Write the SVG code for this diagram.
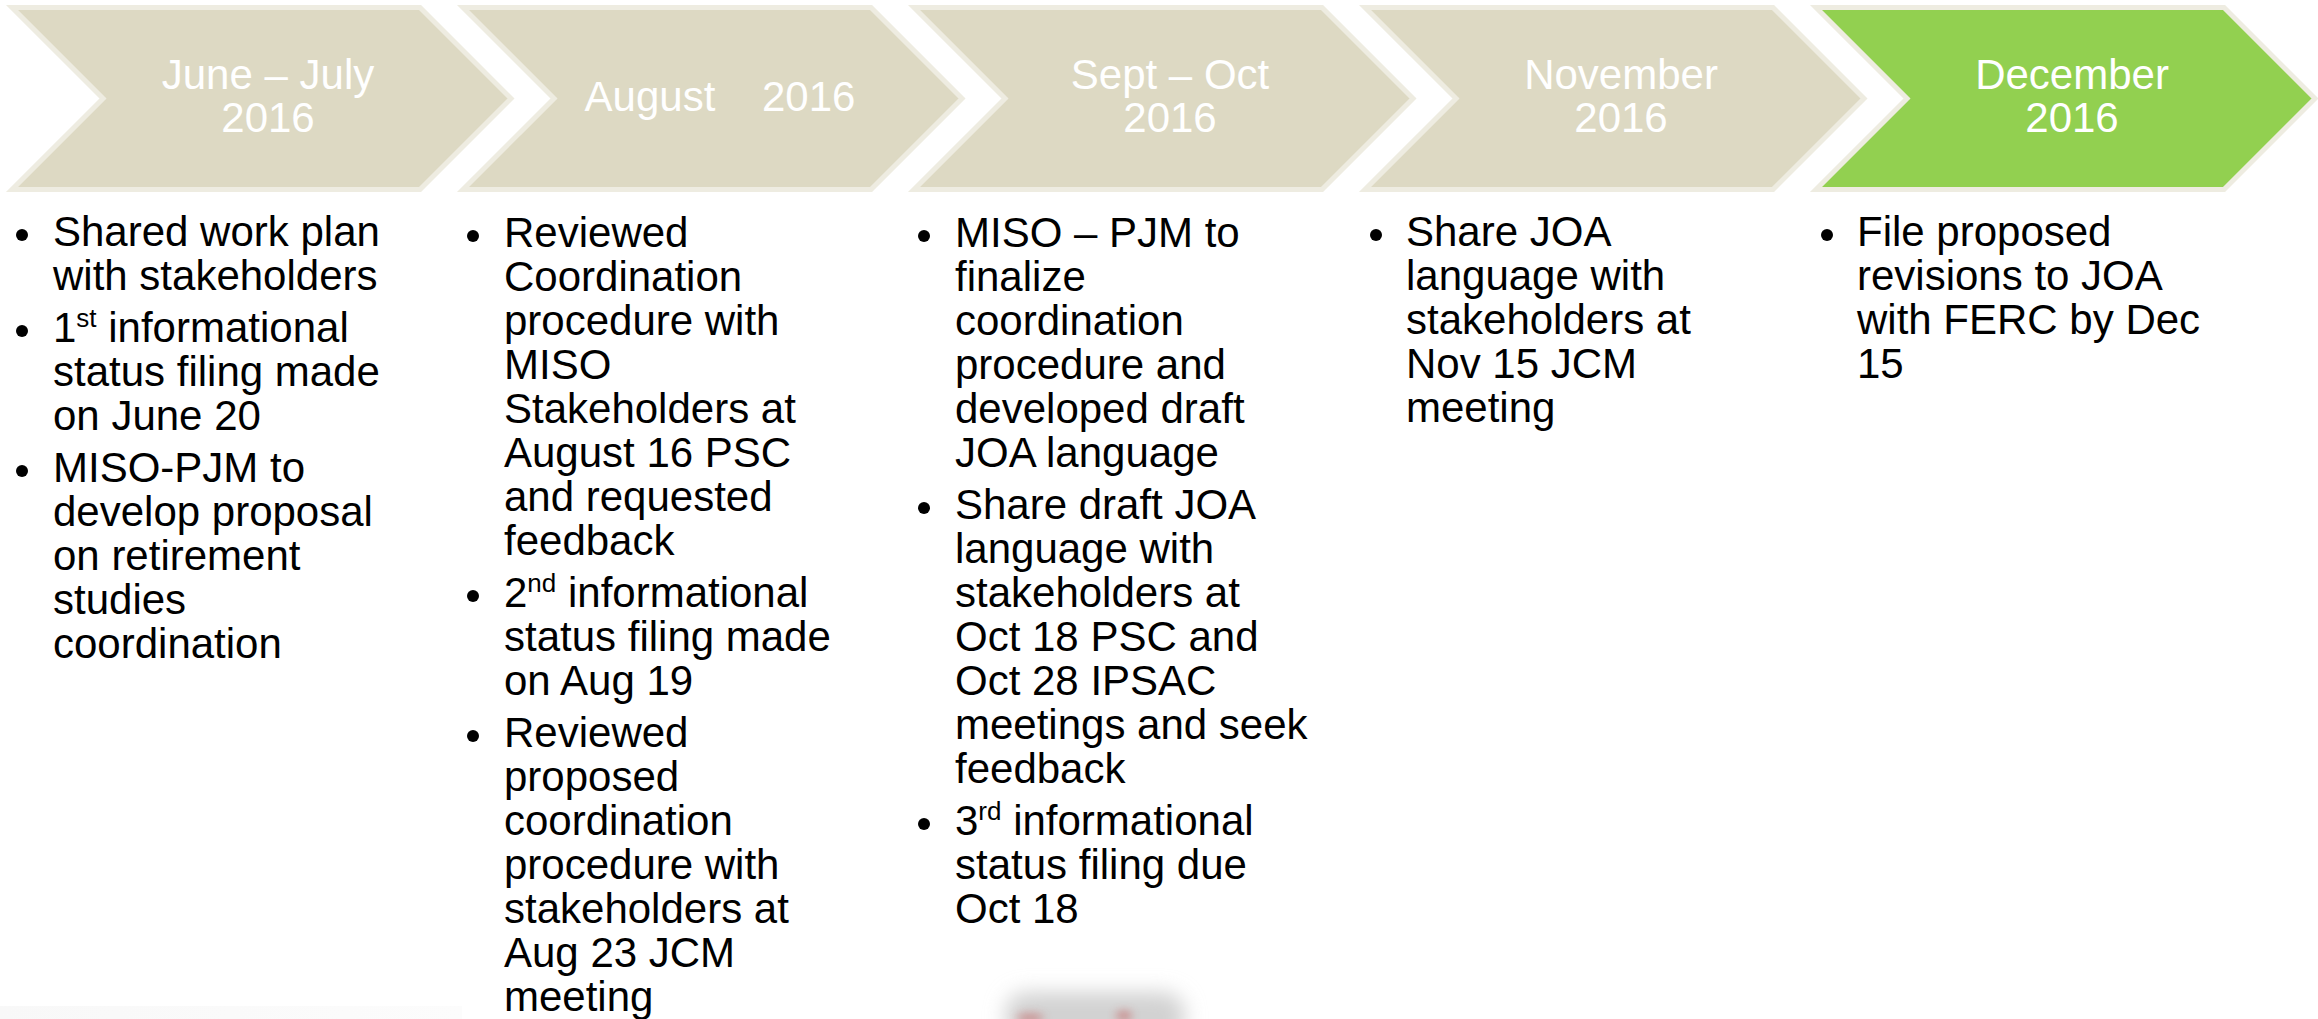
<svg xmlns="http://www.w3.org/2000/svg" width="2318" height="1019" viewBox="0 0 2318 1019">
  <defs>
    <style>
      .chev { fill: #DDD9C3; stroke: #EEECE1; stroke-width: 5; stroke-linejoin: miter; }
      .chev-now { fill: #92D050; stroke: #EEECE1; stroke-width: 5; stroke-linejoin: miter; }
      .head { font-family: "Liberation Sans", Arial, sans-serif; font-size: 42px; fill: #FFFFFF; text-anchor: middle; }
      .body { font-family: "Liberation Sans", Arial, sans-serif; font-size: 42px; fill: #000000; }
      .sup { font-size: 26px; }
      .dot { fill: #000000; }
    </style>
    <path id="chevron" d="M 12 7.5 L 420 7.5 L 511 98.5 L 420 189.5 L 12 189.5 L 103 98.5 Z"/>
    <filter id="soft" x="-30%" y="-60%" width="160%" height="220%">
      <feGaussianBlur stdDeviation="10"/>
    </filter>
    <filter id="softer" x="-80%" y="-150%" width="260%" height="400%">
      <feGaussianBlur stdDeviation="5"/>
    </filter>
    <linearGradient id="footFade" x1="0" y1="0" x2="1" y2="0">
      <stop offset="0" stop-color="#F8F8F8"/>
      <stop offset="1" stop-color="#FCFCFC"/>
    </linearGradient>
  </defs>

  <rect width="2318" height="1019" fill="#FFFFFF"/>

  <!-- faint footer strip, bottom left -->
  <rect x="0" y="1006" width="462" height="13" fill="url(#footFade)"/>

  <!-- logo peeking in at the bottom edge -->
  <g id="logo">
    <rect x="1005" y="992" width="180" height="50" rx="22" fill="#D2D2D2" filter="url(#soft)"/>
    <ellipse cx="1030" cy="1018" rx="14" ry="4" fill="#C04848" opacity="0.55" filter="url(#softer)"/>
    <ellipse cx="1124" cy="1016" rx="8" ry="5" fill="#C04848" opacity="0.55" filter="url(#softer)"/>
  </g>

  <!-- timeline stages -->
  <g id="stage-jun-jul">
    <use href="#chevron" class="chev"/>
    <text class="head"><tspan x="268" y="89">June – July</tspan><tspan x="268" y="132">2016</tspan></text>
  </g>
  <g id="stage-aug">
    <use href="#chevron" class="chev" transform="translate(451,0)"/>
    <text class="head" x="720" y="111" xml:space="preserve">August    2016</text>
  </g>
  <g id="stage-sep-oct">
    <use href="#chevron" class="chev" transform="translate(902,0)"/>
    <text class="head"><tspan x="1170" y="89">Sept – Oct</tspan><tspan x="1170" y="132">2016</tspan></text>
  </g>
  <g id="stage-nov">
    <use href="#chevron" class="chev" transform="translate(1353,0)"/>
    <text class="head"><tspan x="1621" y="89">November</tspan><tspan x="1621" y="132">2016</tspan></text>
  </g>
  <g id="stage-dec">
    <use href="#chevron" class="chev-now" transform="translate(1804,0)"/>
    <text class="head"><tspan x="2072" y="89">December</tspan><tspan x="2072" y="132">2016</tspan></text>
  </g>

  <!-- bullet lists under each stage -->
  <g id="notes-jun-jul">
    <circle class="dot" cx="22" cy="235" r="6"/>
    <circle class="dot" cx="22" cy="331" r="6"/>
    <circle class="dot" cx="22" cy="471" r="6"/>
    <text class="body">
      <tspan x="53" y="246">Shared work plan</tspan>
      <tspan x="53" y="290">with stakeholders</tspan>
      <tspan x="53" y="342">1<tspan class="sup" dy="-15">st</tspan><tspan dy="15"> informational</tspan></tspan>
      <tspan x="53" y="386">status filing made</tspan>
      <tspan x="53" y="430">on June 20</tspan>
      <tspan x="53" y="482">MISO-PJM to</tspan>
      <tspan x="53" y="526">develop proposal</tspan>
      <tspan x="53" y="570">on retirement</tspan>
      <tspan x="53" y="614">studies</tspan>
      <tspan x="53" y="658">coordination</tspan>
    </text>
  </g>

  <g id="notes-aug">
    <circle class="dot" cx="473" cy="236" r="6"/>
    <circle class="dot" cx="473" cy="596" r="6"/>
    <circle class="dot" cx="473" cy="736" r="6"/>
    <text class="body">
      <tspan x="504" y="247">Reviewed</tspan>
      <tspan x="504" y="291">Coordination</tspan>
      <tspan x="504" y="335">procedure with</tspan>
      <tspan x="504" y="379">MISO</tspan>
      <tspan x="504" y="423">Stakeholders at</tspan>
      <tspan x="504" y="467">August 16 PSC</tspan>
      <tspan x="504" y="511">and requested</tspan>
      <tspan x="504" y="555">feedback</tspan>
      <tspan x="504" y="607">2<tspan class="sup" dy="-15">nd</tspan><tspan dy="15"> informational</tspan></tspan>
      <tspan x="504" y="651">status filing made</tspan>
      <tspan x="504" y="695">on Aug 19</tspan>
      <tspan x="504" y="747">Reviewed</tspan>
      <tspan x="504" y="791">proposed</tspan>
      <tspan x="504" y="835">coordination</tspan>
      <tspan x="504" y="879">procedure with</tspan>
      <tspan x="504" y="923">stakeholders at</tspan>
      <tspan x="504" y="967">Aug 23 JCM</tspan>
      <tspan x="504" y="1011">meeting</tspan>
    </text>
  </g>

  <g id="notes-sep-oct">
    <circle class="dot" cx="924" cy="236" r="6"/>
    <circle class="dot" cx="924" cy="508" r="6"/>
    <circle class="dot" cx="924" cy="824" r="6"/>
    <text class="body">
      <tspan x="955" y="247">MISO – PJM to</tspan>
      <tspan x="955" y="291">finalize</tspan>
      <tspan x="955" y="335">coordination</tspan>
      <tspan x="955" y="379">procedure and</tspan>
      <tspan x="955" y="423">developed draft</tspan>
      <tspan x="955" y="467">JOA language</tspan>
      <tspan x="955" y="519">Share draft JOA</tspan>
      <tspan x="955" y="563">language with</tspan>
      <tspan x="955" y="607">stakeholders at</tspan>
      <tspan x="955" y="651">Oct 18 PSC and</tspan>
      <tspan x="955" y="695">Oct 28 IPSAC</tspan>
      <tspan x="955" y="739">meetings and seek</tspan>
      <tspan x="955" y="783">feedback</tspan>
      <tspan x="955" y="835">3<tspan class="sup" dy="-15">rd</tspan><tspan dy="15"> informational</tspan></tspan>
      <tspan x="955" y="879">status filing due</tspan>
      <tspan x="955" y="923">Oct 18</tspan>
    </text>
  </g>

  <g id="notes-nov">
    <circle class="dot" cx="1376" cy="235" r="6"/>
    <text class="body">
      <tspan x="1406" y="246">Share JOA</tspan>
      <tspan x="1406" y="290">language with</tspan>
      <tspan x="1406" y="334">stakeholders at</tspan>
      <tspan x="1406" y="378">Nov 15 JCM</tspan>
      <tspan x="1406" y="422">meeting</tspan>
    </text>
  </g>

  <g id="notes-dec">
    <circle class="dot" cx="1827" cy="235" r="6"/>
    <text class="body">
      <tspan x="1857" y="246">File proposed</tspan>
      <tspan x="1857" y="290">revisions to JOA</tspan>
      <tspan x="1857" y="334">with FERC by Dec</tspan>
      <tspan x="1857" y="378">15</tspan>
    </text>
  </g>
</svg>
